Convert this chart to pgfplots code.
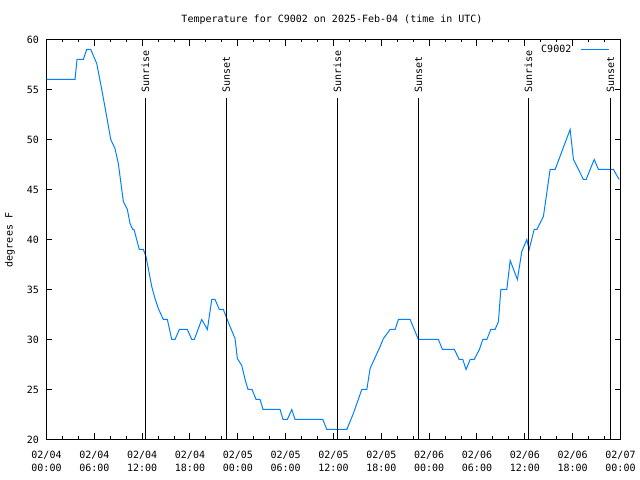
\documentclass[border=0pt]{standalone}
\usepackage{pgfplots}
\pgfplotsset{compat=1.18}
\usepackage{fontspec}
\setmainfont{DejaVu Sans Mono}
\definecolor{tline}{RGB}{0,128,255}
\begin{document}
\begin{tikzpicture}[font=\fontsize{10bp}{12bp}\selectfont]
\begin{axis}[
  at={(46.5bp,40.5bp)}, anchor=south west,
  scale only axis, width=574bp, height=400bp,
  xmin=0, xmax=72, ymin=20, ymax=60,
  axis line style={black, line width=1bp},
  xtick={0,6,...,72},
  xticklabels={{02/04\\00:00},{02/04\\06:00},{02/04\\12:00},{02/04\\18:00},{02/05\\00:00},{02/05\\06:00},{02/05\\12:00},{02/05\\18:00},{02/06\\00:00},{02/06\\06:00},{02/06\\12:00},{02/06\\18:00},{02/07\\00:00}},
  minor x tick num=2,
  ytick={20,25,...,60},
  tick align=inside,
  major tick length=6bp, minor tick length=3bp,
  tick style={black, line width=1bp},
  xticklabel style={align=center, yshift=-8bp, font=\fontsize{10bp}{13bp}\selectfont},
  yticklabel style={xshift=-4bp, font=\fontsize{10bp}{12bp}\selectfont},
  /pgf/number format/assume math mode=true,
  legend style={draw=none, fill=none, at={(1,1)}, anchor=north east, xshift=-8bp, yshift=-1bp, font=\fontsize{10bp}{12bp}\selectfont},
  legend plot pos=right,
  legend image code/.code={\path (0bp,0bp); \draw[#1] (7bp,0bp) -- (35bp,0bp);},
  clip=true,
]
\addplot[tline, line width=1bp, no marks] coordinates {
(0,56)(3.58,56)(3.83,58)(4.62,58)(5.04,59)(5.55,59)(6.30,57.6)(6.93,55)(7.55,52.3)(8.06,50)(8.59,49.1)(9.01,47.6)(9.44,45)(9.64,43.8)(10.14,43)(10.48,41.6)(10.82,41)(10.98,41)(11.64,39)(12.15,39)(12.48,38.3)(13.20,35.3)(13.61,34.1)(14.03,33.1)(14.65,32)(15.16,32)(15.71,30)(16.12,30)(16.66,31)(17.67,31)(18.22,30)(18.54,30)(19.47,32)(20.18,31)(20.73,34)(21.14,34)(21.68,33)(22.18,33)(22.52,32.3)(23.02,31.3)(23.65,30.1)(23.94,28.1)(24.49,27.4)(24.91,26)(25.28,25)(25.78,25)(26.29,24)(26.79,24)(27.16,23)(29.30,23)(29.67,22)(30.21,22)(30.77,23)(31.18,22)(34.66,22)(35.16,21)(37.67,21)(38.49,22.6)(39.55,25)(40.18,25)(40.59,27.1)(41.85,29.3)(42.26,30.1)(43.10,31)(43.73,31)(44.14,32)(45.61,32)(46.65,30)(49.16,30)(49.66,29)(51.17,29)(51.76,28)(52.22,28)(52.63,27)(53.14,28)(53.64,28)(54.30,29)(54.73,30)(55.23,30)(55.73,31)(56.27,31)(56.69,31.8)(56.99,35)(57.74,35)(58.16,37.9)(59.07,36)(59.62,38.8)(60.25,40)(60.54,39)(61.17,41)(61.51,41)(62.33,42.3)(63.17,47)(63.80,47)(65.68,51)(66.10,48)(67.35,46)(67.69,46)(68.70,48)(69.24,47)(71.12,47)(71.83,46)
};
\addlegendentry{C9002}
\addplot[black, line width=1bp, no marks, forget plot] coordinates {(12.42,20)(12.42,54.1)};
\addplot[black, line width=1bp, no marks, forget plot] coordinates {(22.55,20)(22.55,54.1)};
\addplot[black, line width=1bp, no marks, forget plot] coordinates {(36.48,20)(36.48,54.1)};
\addplot[black, line width=1bp, no marks, forget plot] coordinates {(46.65,20)(46.65,54.1)};
\addplot[black, line width=1bp, no marks, forget plot] coordinates {(60.45,20)(60.45,54.1)};
\addplot[black, line width=1bp, no marks, forget plot] coordinates {(70.74,20)(70.74,54.1)};
\node[rotate=90, anchor=west, inner sep=0pt] at (axis cs:12.42,54.7) {Sunrise};
\node[rotate=90, anchor=west, inner sep=0pt] at (axis cs:22.55,54.7) {Sunset};
\node[rotate=90, anchor=west, inner sep=0pt] at (axis cs:36.48,54.7) {Sunrise};
\node[rotate=90, anchor=west, inner sep=0pt] at (axis cs:46.65,54.7) {Sunset};
\node[rotate=90, anchor=west, inner sep=0pt] at (axis cs:60.45,54.7) {Sunrise};
\node[rotate=90, anchor=west, inner sep=0pt] at (axis cs:70.74,54.7) {Sunset};
\end{axis}
\node at (332bp,460bp) {Temperature for C9002 on 2025-Feb-04 (time in UTC)};
\node[rotate=90] at (10bp,240bp) {degrees F};
\pgfresetboundingbox
\path[use as bounding box] (0,0) rectangle (640bp,480bp);
\end{tikzpicture}
\end{document}
